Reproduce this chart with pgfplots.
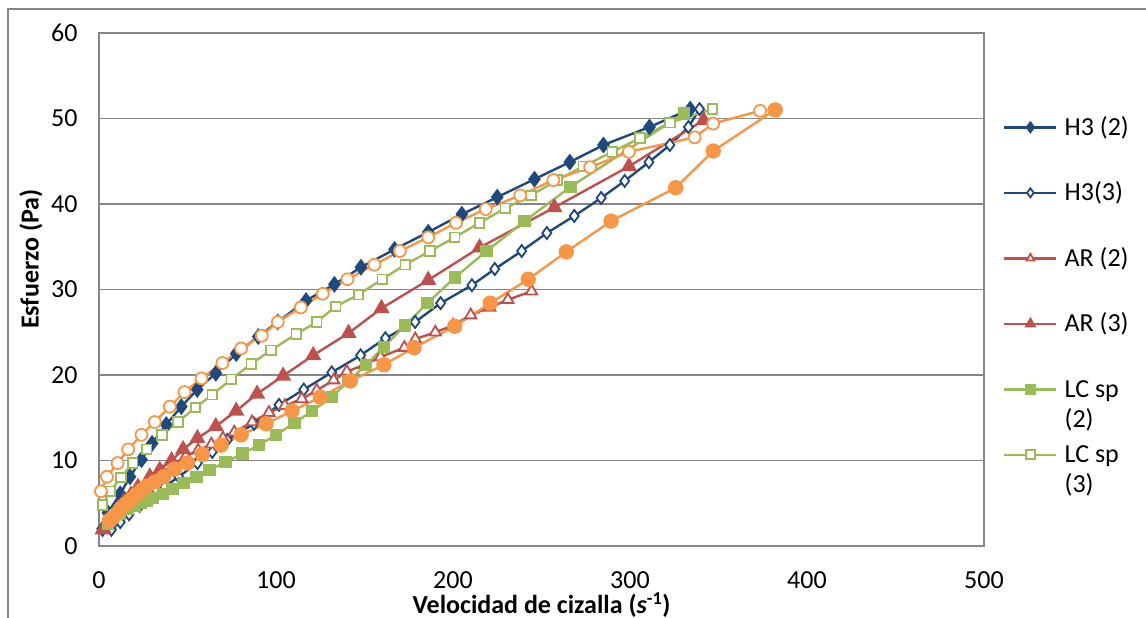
\documentclass[border=0pt]{standalone}
\usepackage{pgfplots}
\pgfplotsset{compat=1.18}
\usepackage{fontspec}
\setmainfont{Carlito}
\definecolor{cblue}{RGB}{31,73,125}
\definecolor{cred}{RGB}{192,80,77}
\definecolor{cgreen}{RGB}{155,187,89}
\definecolor{corange}{RGB}{247,150,70}
\definecolor{cgrid}{RGB}{134,134,134}
\newcommand{\lgtwo}[2]{\begin{tabular}[t]{@{}l@{}}#1\\#2\end{tabular}}
\begin{document}
\begin{tikzpicture}[x=1pt,y=1pt]
\path[use as bounding box] (0,0) rectangle (1146,618);
\draw[cgrid, line width=1.2pt] (8,0) -- (8,609) -- (1146,609);
\begin{axis}[
  at={(99pt,72pt)}, anchor=south west,
  scale only axis, width=885pt, height=513pt,
  xmin=0, xmax=500, ymin=0, ymax=60,
  xtick={0,100,...,500}, ytick={0,10,...,60},
  ymajorgrids, grid style={cgrid, line width=1.2pt},
  axis line style={cgrid, line width=1.2pt},
  major tick length=0pt,
  /pgf/number format/assume math mode=true,
  ticklabel style={font=\fontsize{26}{31}\selectfont},
  yticklabel style={xshift=-18pt},
  xticklabel style={yshift=-22pt},
  every axis y label/.style={at={(axis description cs:-0.077,0.559)}, rotate=90, anchor=center},
  every axis x label/.style={at={(axis description cs:0.5,-0.115)}, anchor=center},
  label style={font=\fontsize{26}{31}\selectfont\bfseries},
  xlabel={Velocidad de cizalla (\textit{s}\textsuperscript{-1})},
  ylabel={Esfuerzo (Pa)},
  legend style={at={(axis description cs:1.0215,0.836)}, anchor=north west, draw=none, fill=none,
    font=\fontsize{26}{30}\selectfont, row sep=0pt, column sep=7pt, inner sep=0pt,
    nodes={inner sep=0pt, text height=18pt, text depth=47.5pt, anchor=base west}},
  legend image code/.code={\draw[#1, mark repeat=2, mark phase=2, mark size=4.5pt] plot coordinates {(0pt,8pt) (26pt,8pt) (52pt,8pt)};},
  every axis plot/.append style={line width=2.4pt},
]
% H3 (2)
\addplot[cblue, mark=diamond*, mark size=6.5pt, mark options={solid}] coordinates {
(2,2)(5,3.9)(12,6.1)(17.5,8.1)(24,10.1)(30,12.0)(38,14.2)(46.5,16.3)(55.5,18.3)(66,20.2)(77.5,22.5)(90,24.5)(101,26.2)(117,28.7)(133,30.6)(148,32.6)(167,34.7)(186,36.7)(205,38.8)(225,40.8)(246,42.9)(266,44.9)(285,46.9)(311,49.0)(334,51.1)};
\addlegendentry{H3 (2)}
% H3 (3)
\addplot[cblue, mark=diamond*, mark size=6pt, mark options={solid, fill=white, line width=1.8pt}] coordinates {
(7,1.9)(12,2.8)(17,3.7)(23,4.7)(30,5.8)(37,6.9)(45,8.1)(55.6,9.7)(64,11.0)(72.5,12.4)(87.6,14.3)(101.7,16.5)(115.7,18.3)(131.5,20.3)(147.8,22.3)(161.8,24.3)(178.6,26.2)(193,28.4)(210.7,30.5)(223.6,32.4)(238.8,34.5)(253,36.6)(268.5,38.6)(283.7,40.7)(297,42.7)(310.7,44.9)(322.5,46.9)(333,49.0)(339.3,51.1)};
\addlegendentry{H3(3)}
% AR (2)
\addplot[cred, mark=triangle*, mark size=6.5pt, mark options={solid, fill=white, line width=1.8pt}] coordinates {
(3,2.0)(6,2.8)(9,3.5)(12,4.2)(16,5.0)(20,5.8)(25,6.7)(30,7.6)(36,8.6)(42,9.5)(49,10.5)(56,11.2)(63.5,11.9)(70,12.6)(76.4,13.3)(86.5,14.5)(96,15.6)(105,16.4)(114.6,17.2)(123,18.2)(132.6,19.4)(140,20.4)(150,21.2)(159,22.1)(172.5,23.2)(178.7,24.2)(190,25.0)(200,25.8)(210,27.0)(220.8,27.9)(231,28.8)(244.4,29.8)};
\addlegendentry{AR (2)}
% AR (3)
\addplot[cred, mark=triangle*, mark size=7pt, mark options={solid}] coordinates {
(2,1.9)(5,2.8)(8,3.6)(11,4.4)(14,5.2)(18,6.0)(22,6.9)(28.7,8.1)(34.3,8.9)(41,10.0)(47.5,11.3)(55.6,12.6)(66,14.0)(77.5,15.8)(89.3,17.8)(104,19.9)(121,22.3)(141,24.9)(159.6,27.8)(186,31.1)(215,34.9)(257.3,39.6)(299.4,44.4)(341.6,49.8)};
\addlegendentry{AR (3)}
% LC sp (2)
\addplot[cgreen, mark=square*, mark size=5pt, mark options={solid}] coordinates {
(5,2.6)(8,3.3)(12,3.8)(16,4.3)(20,4.7)(23.5,5.0)(27,5.3)(30.3,5.6)(36,6.1)(41.6,6.7)(47.8,7.4)(55,8.1)(62.4,8.9)(71.5,9.8)(81,10.8)(90.4,11.8)(100,13.0)(110.5,14.4)(120.5,15.8)(131.5,17.4)(141,19.3)(151,21.2)(161,23.3)(173,25.8)(185.5,28.4)(201,31.4)(219,34.5)(240.5,38.0)(266.3,42.0)(330.5,50.6)};
\addlegendentry{\lgtwo{LC sp}{(2)}}
% LC sp (3)
\addplot[cgreen, mark=square*, mark size=4.8pt, mark options={solid, fill=white, line width=1.8pt}] coordinates {
(2,4.8)(6.2,6.4)(12.4,8.0)(19,9.7)(27,11.3)(35.5,13.0)(44.6,14.5)(54.5,16.2)(64,17.7)(74.7,19.5)(86,21.3)(97.2,22.9)(111.5,24.8)(123,26.2)(133.7,28.0)(146.6,29.4)(160,31.2)(173,32.9)(187,34.5)(201,36.1)(215,37.8)(229.5,39.5)(244,41.0)(259,42.8)(273.6,44.4)(290,46.1)(305.6,47.7)(322.5,49.5)(346.6,51.1)};
\addlegendentry{\lgtwo{LC sp}{(3)}}
% orange open circles
\addplot[corange, forget plot, mark=*, mark size=6pt, mark options={solid, fill=white, line width=1.8pt}] coordinates {
(1.1,6.4)(4.5,8.1)(10.5,9.7)(16.5,11.3)(24,13.0)(31.5,14.5)(40,16.3)(48.3,18.0)(57.9,19.6)(69.7,21.4)(80.3,23.1)(92,24.6)(101,26.2)(114,27.9)(126.4,29.5)(140.4,31.2)(155.6,32.9)(170,34.5)(186,36.1)(201.7,37.8)(218.5,39.4)(238,41.0)(256.7,42.8)(277.5,44.3)(299.4,46.1)(336.5,47.8)(347,49.4)(373.5,50.9)};
% orange filled circles
\addplot[corange, forget plot, mark=*, mark size=6.5pt, mark options={solid}] coordinates {
(6,3.0)(9,3.6)(12,4.3)(15,4.9)(18,5.4)(21,6.0)(24,6.5)(27,7.0)(31.5,7.5)(36.5,8.1)(42.7,9.0)(50,9.7)(58.4,10.7)(69,11.8)(80.3,13.0)(94.4,14.3)(109,15.8)(125,17.4)(142,19.3)(161,21.2)(178,23.2)(201,25.7)(221,28.4)(242.5,31.2)(264,34.4)(289.3,38.0)(325.8,41.9)(347,46.2)(382,51.0)};
\end{axis}
\end{tikzpicture}
\end{document}
